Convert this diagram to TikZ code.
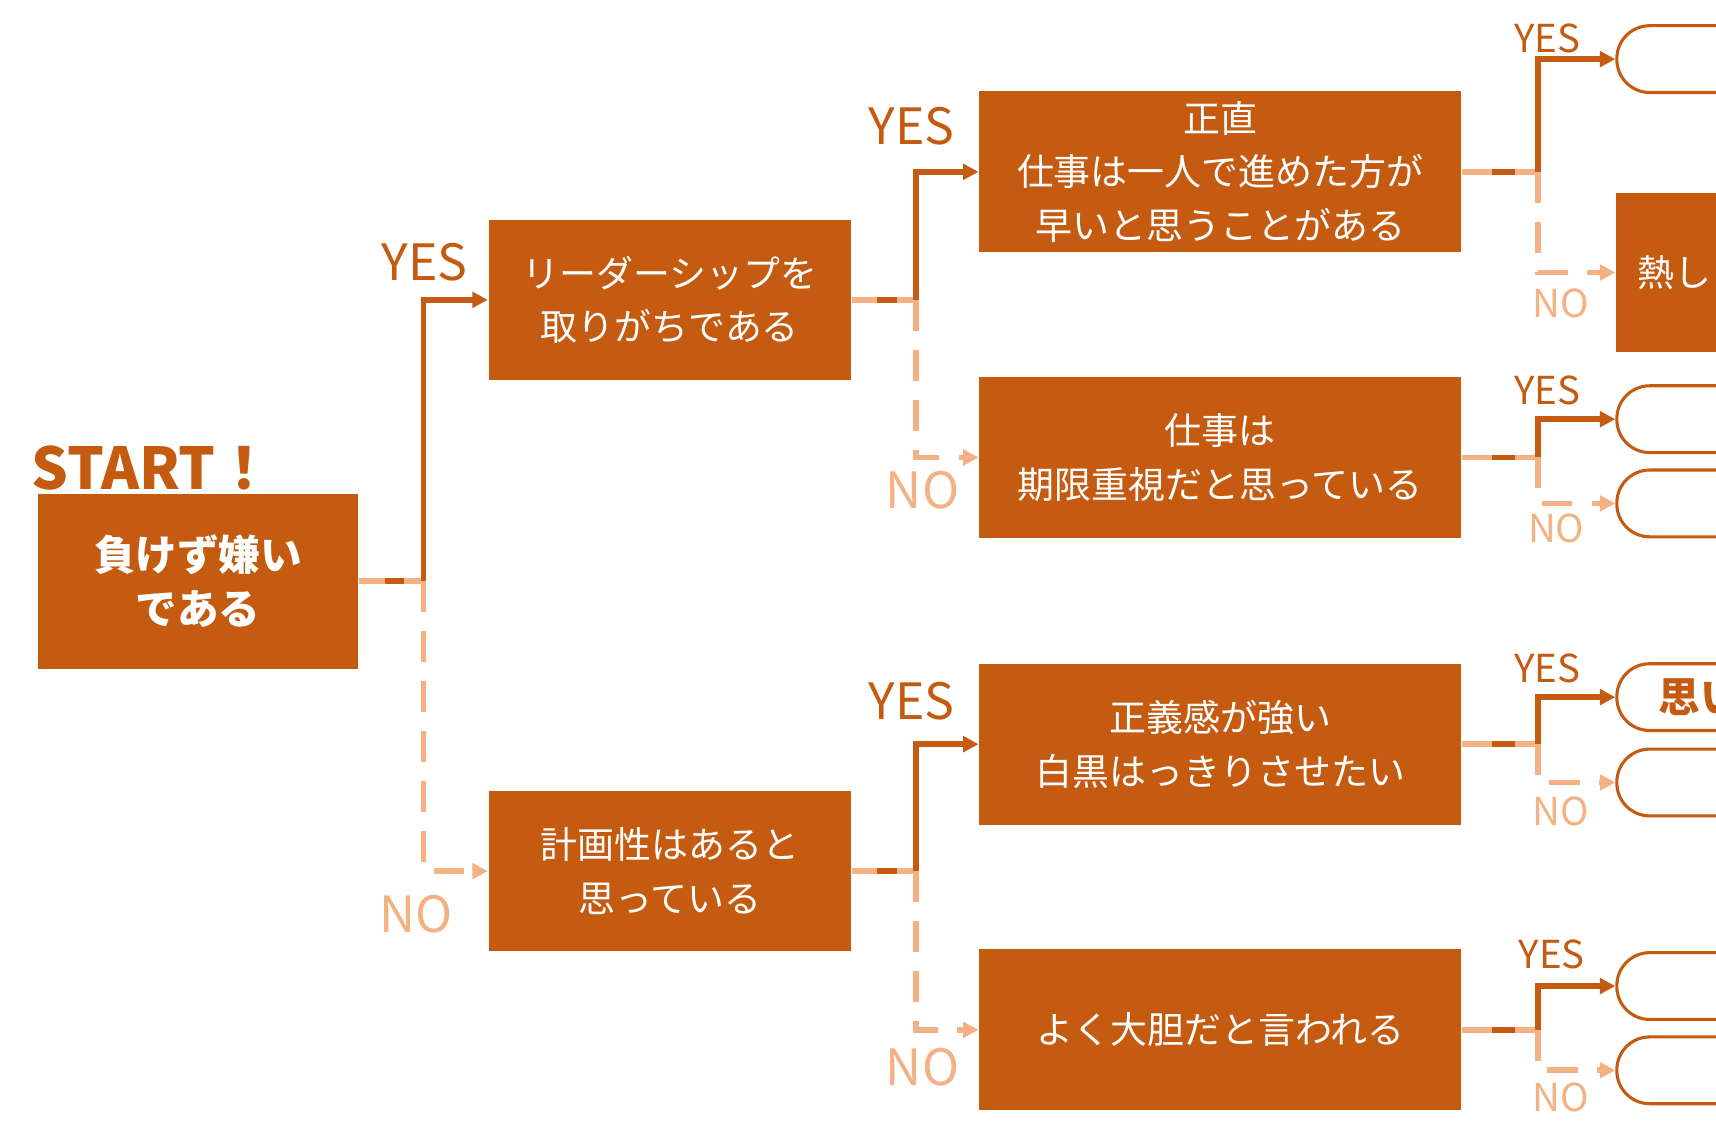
\documentclass[tikz,border=0pt]{standalone}
\usepackage{fontspec}
\setmainfont{Noto Sans CJK JP}
\usetikzlibrary{arrows.meta,calc}
\definecolor{dk}{HTML}{C55A11}
\definecolor{lt}{HTML}{F4B183}
\begin{document}
\begin{tikzpicture}[x=0.01cm,y=-0.01cm,
 box/.style={fill=dk,draw=none,text=white,align=center,font=\fontsize{9.6}{14}\selectfont,inner sep=0},
 term/.style={draw=dk,line width=0.8pt,rounded corners=0.3cm,minimum height=0.61cm,minimum width=2cm,anchor=west,inner sep=0},
 yes/.style={-{Triangle[length=4pt,width=4pt]},dk,line width=1.5pt},
 no/.style={-{Triangle[length=4pt,width=4pt]},lt,line width=1.5pt,dash pattern=on 8pt off 5pt},
 stub/.style={lt,line width=1.5pt},
 bigY/.style={text=dk,font=\fontsize{13}{13}\selectfont,inner sep=0},
 bigN/.style={text=lt,font=\fontsize{13}{13}\selectfont,inner sep=0},
 smY/.style={text=dk,font=\fontsize{10}{10}\selectfont,inner sep=0},
 smN/.style={text=lt,font=\fontsize{10}{10}\selectfont,inner sep=0}]
\useasboundingbox (0,0) rectangle (1568,1045);
\clip (0,0) rectangle (1568,1045);
\node[text=dk,font=\bfseries\fontsize{15}{15}\selectfont,anchor=west,inner sep=0] (st) at (28,428) {START！};
\node[box,minimum width=2.92cm,minimum height=1.6cm,font=\bfseries\fontsize{10.8}{14}\selectfont] (S) at (181,531) {負けず嫌い\\である};
\node[box,minimum width=3.31cm,minimum height=1.46cm] (A) at (612,274) {リーダーシップを\\取りがちである};
\node[box,minimum width=3.31cm,minimum height=1.46cm] (B) at (612,796) {計画性はあると\\思っている};
\node[box,minimum width=4.4cm,minimum height=1.47cm] (C) at (1115,157) {正直\\仕事は一人で進めた方が\\早いと思うことがある};
\node[box,minimum width=4.4cm,minimum height=1.47cm] (D) at (1115,418) {仕事は\\期限重視だと思っている};
\node[box,minimum width=4.4cm,minimum height=1.47cm] (E) at (1115,680) {正義感が強い\\白黒はっきりさせたい};
\node[box,minimum width=4.4cm,minimum height=1.47cm] (F) at (1115,941) {よく大胆だと言われる};
\node[box,minimum width=2cm,minimum height=1.45cm,anchor=west,text width=1.9cm,align=left] (G) at (1476,249) {\hspace{0.15cm}熱し};
\node[term] (T1) at (1476,54) {};
\node[term] (T2) at (1476,383) {};
\node[term] (T3) at (1476,460) {};
\node[term,text=dk,font=\bfseries\fontsize{10.8}{10.8}\selectfont,align=left,text width=2cm] (T4) at (1476,637) {\hspace{0.38cm}思い};
\node[term] (T5) at (1476,715) {};
\node[term] (T6) at (1476,901) {};
\node[term] (T7) at (1476,978) {};
\coordinate (s1) at (387,531); \coordinate (a1) at (837,274); \coordinate (b1) at (837,796);
\coordinate (c1) at (1405,157); \coordinate (d1) at (1405,418); \coordinate (e1) at (1405,680); \coordinate (f1) at (1405,941);
\foreach \src/\p in {S/s1,A/a1,B/b1,C/c1,D/d1,E/e1,F/f1}{
  \draw[stub] (\src.east) -- (\p);
  \draw[dk,line width=1.5pt] ($(\src.east)!0.4!(\p)$) -- ($(\src.east)!0.7!(\p)$);
}
\draw[yes] (s1) |- (A.west); \draw[no] (s1) |- (B.west);
\draw[yes] (a1) |- (C.west); \draw[no] (a1) |- (D.west);
\draw[yes] (b1) |- (E.west); \draw[no] (b1) |- (F.west);
\draw[yes] (c1) |- (T1.west); \draw[no] (c1) |- (G.west);
\draw[yes] (d1) |- (T2.west); \draw[no] (d1) |- (T3.west);
\draw[yes] (e1) |- (T4.west); \draw[no] (e1) |- (T5.west);
\draw[yes] (f1) |- (T6.west); \draw[no] (f1) |- (T7.west);
\node[bigY] (ly1) at (388,240) {YES}; \node[bigN] (ln1) at (380,835) {NO};
\node[bigY] (ly2) at (833,115) {YES}; \node[bigN] (ln2) at (843,448) {NO};
\node[bigY] (ly3) at (833,641) {YES}; \node[bigN] (ln3) at (843,975) {NO};
\node[smY] (y4) at (1414,35) {YES}; \node[smN] (n4) at (1426,277) {NO};
\node[smY] (y5) at (1414,357) {YES}; \node[smN] (n5) at (1422,483) {NO};
\node[smY] (y6) at (1414,611) {YES}; \node[smN] (n6) at (1426,741) {NO};
\node[smY] (y7) at (1418,872) {YES}; \node[smN] (n7) at (1426,1003) {NO};
\end{tikzpicture}
\end{document}
